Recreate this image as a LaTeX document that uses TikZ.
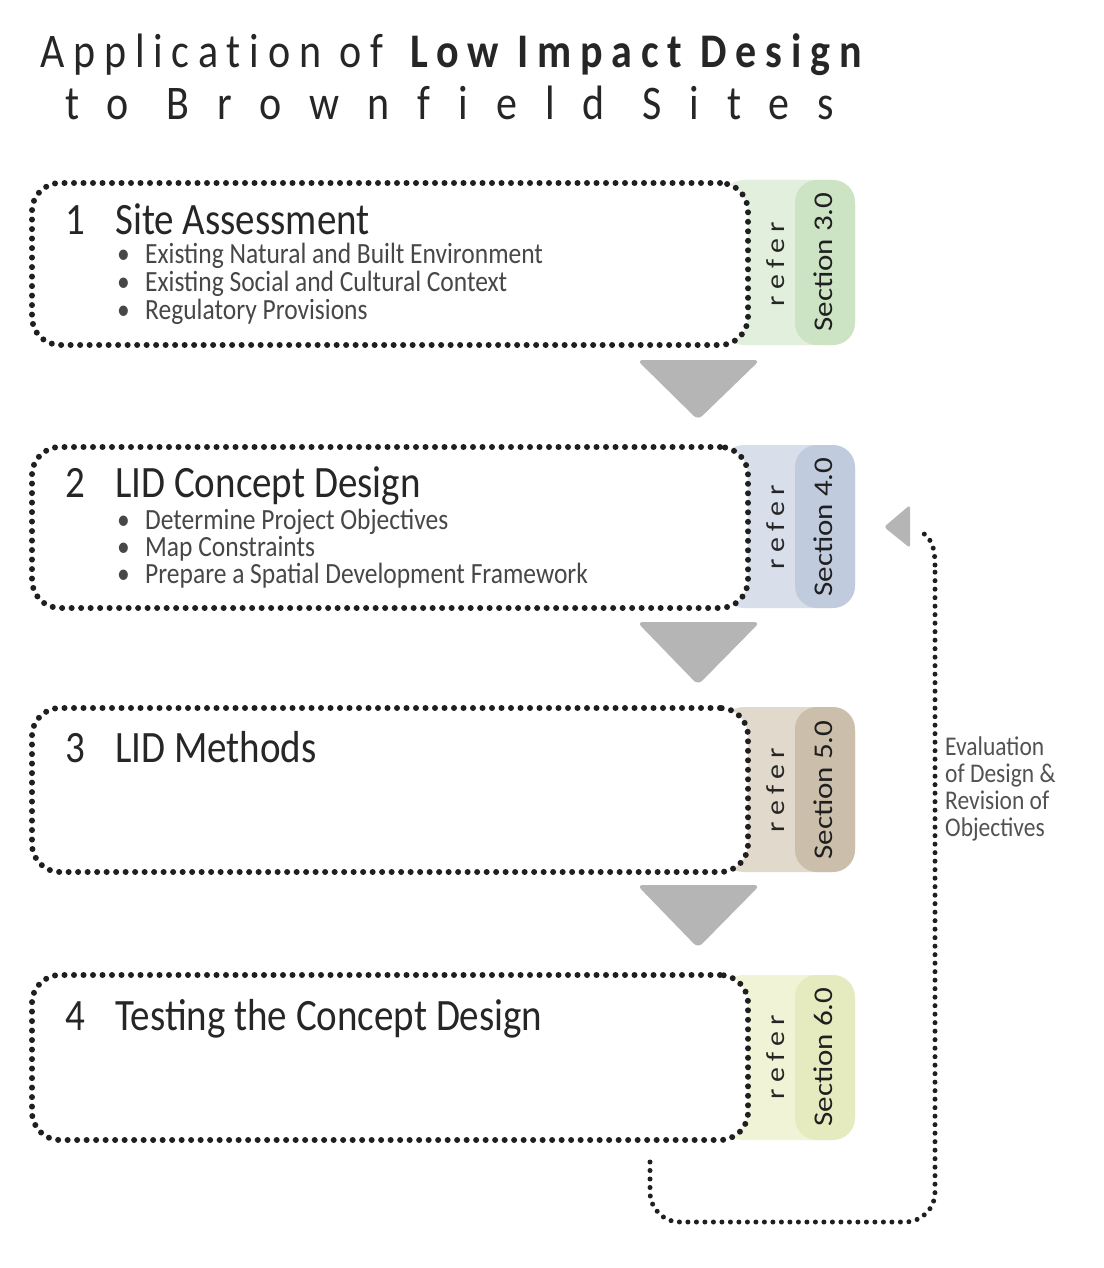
\documentclass[tikz,border=0pt]{standalone}
\usepackage{fontspec}
\usepackage{graphicx}
\setmainfont{Carlito}
\newfontfamily\titlefont[LetterSpace=21,Ligatures=NoCommon]{Carlito}
\newfontfamily\titlewide[LetterSpace=66.8,Ligatures=NoCommon]{Carlito}
\newfontfamily\referfont[LetterSpace=22]{Carlito}
\newcommand{\stry}[1]{\scalebox{1}[1.15]{#1}}
\newcommand{\strx}[1]{\scalebox{1.15}[1]{#1}}
\definecolor{tabAl}{HTML}{E2EFDC}\definecolor{tabAd}{HTML}{CCE3C4}
\definecolor{tabBl}{HTML}{D8DFEA}\definecolor{tabBd}{HTML}{C0CBDE}
\definecolor{tabCl}{HTML}{E0D9CC}\definecolor{tabCd}{HTML}{CBBFAB}
\definecolor{tabDl}{HTML}{F1F3D6}\definecolor{tabDd}{HTML}{E6EBBF}
\definecolor{arrowgray}{HTML}{B5B5B5}
\begin{document}
\begin{tikzpicture}[x=1pt,y=-1pt,
  dotbox/.style={draw=black!88, line width=6pt, dash pattern=on 0pt off 9.5pt, line cap=round, rounded corners=28pt, fill=white, inner sep=0pt, minimum width=716pt},
  dotline/.style={draw=black!88, line width=5pt, dash pattern=on 0pt off 8.5pt, line cap=round},
  heading/.style={anchor=base west, inner sep=0pt, text=black!85, font=\fontsize{39}{40}\selectfont},
  bulletitem/.style={anchor=base west, inner sep=0pt, text=black!72, font=\fontsize{25.5}{26}\selectfont},
  refertext/.style={rotate=90, inner sep=0pt, text=black!85, font=\fontsize{26}{26}\referfont},
  sectext/.style={rotate=90, inner sep=0pt, text=black!88, font=\fontsize{27}{26}\selectfont},
  grayarrow/.style={fill=arrowgray, rounded corners=6pt},
  titletext/.style={anchor=base west, inner sep=0pt, text=black!85}
]
\useasboundingbox (0,0) rectangle (1103,1268);
\fill[white] (0,0) rectangle (1103,1268);

% title
\node[titletext, font=\fontsize{42}{42}\titlefont] (t1) at (40,68) {\stry{Application of \textbf{Low Impact Design}}};
\node[titletext, font=\fontsize{42}{42}\titlewide] (t2) at (65,120) {\stry{to Brownfield Sites}};

% tabs
\foreach \yt/\yb/\cl/\cd in {180/345/tabAl/tabAd, 445/608/tabBl/tabBd, 707/872/tabCl/tabCd, 975/1140/tabDl/tabDd}{
  \fill[\cl, rounded corners=24pt] (720,\yt) rectangle (855,\yb);
  \fill[\cd, rounded corners=22pt] (795,\yt) rectangle (855,\yb);
}

% boxes
\node[dotbox, minimum height=162pt] (box1) at (390,264) {};
\node[dotbox, minimum height=161pt] (box2) at (390,527.5) {};
\node[dotbox, minimum height=164pt] (box3) at (390,790) {};
\node[dotbox, minimum height=165pt] (box4) at (390,1057.5) {};

% headings
\node[heading] (h1) at (65,234) {\stry{\makebox[50pt][l]{1}Site Assessment}};
\node[heading] (h2) at (65,497) {\stry{\makebox[50pt][l]{2}LID Concept Design}};
\node[heading] (h3) at (65,762) {\stry{\makebox[50pt][l]{3}LID Methods}};
\node[heading] (h4) at (65,1030) {\stry{\makebox[50pt][l]{4}Testing the Concept Design}};

% bullets
\node[bulletitem] (b1a) at (117,263) {\stry{\makebox[28pt][l]{•}Existing Natural and Built Environment}};
\node[bulletitem] (b1b) at (117,291) {\stry{\makebox[28pt][l]{•}Existing Social and Cultural Context}};
\node[bulletitem] (b1c) at (117,319) {\stry{\makebox[28pt][l]{•}Regulatory Provisions}};
\node[bulletitem] (b2a) at (117,529) {\stry{\makebox[28pt][l]{•}Determine Project Objectives}};
\node[bulletitem] (b2b) at (117,556) {\stry{\makebox[28pt][l]{•}Map Constraints}};
\node[bulletitem] (b2c) at (117,583) {\stry{\makebox[28pt][l]{•}Prepare a Spatial Development Framework}};

% tab texts
\node[refertext] (r1) at (776,264) {\strx{refer}};
\node[sectext] (s1) at (823,262) {\strx{Section 3.0}};
\node[refertext] (r2) at (776,527) {\strx{refer}};
\node[sectext] (s2) at (823,527) {\strx{Section 4.0}};
\node[refertext] (r3) at (776,790) {\strx{refer}};
\node[sectext] (s3) at (823,790) {\strx{Section 5.0}};
\node[refertext] (r4) at (776,1057) {\strx{refer}};
\node[sectext] (s4) at (823,1057) {\strx{Section 6.0}};

% gray arrows between boxes
\fill[grayarrow] (637,360) -- (760,360) -- (698,420) -- cycle;
\fill[grayarrow] (637,622) -- (760,622) -- (698,685) -- cycle;
\fill[grayarrow] (637,885) -- (760,885) -- (698,948) -- cycle;

% feedback loop
\coordinate (fbs) at (650,1162);
\coordinate (fbe) at (917,530);
\fill[arrowgray, rounded corners=3pt] (910,505) -- (910,548) -- (884,527) -- cycle;
\draw[dotline, rounded corners=30pt] (fbs) -- (650,1222) -- (935,1222) -- (935,565);
\draw[dotline] (935,565) .. controls (935,545) and (930,535) .. (fbe);

\node[anchor=north west, inner sep=0pt, text=black!68, font=\fontsize{23.5}{23.5}\selectfont] (eval) at (945,736)
  {\stry{\begin{tabular}{@{}l@{}}Evaluation\\of Design \&\\Revision of\\Objectives\end{tabular}}};
\end{tikzpicture}
\end{document}
